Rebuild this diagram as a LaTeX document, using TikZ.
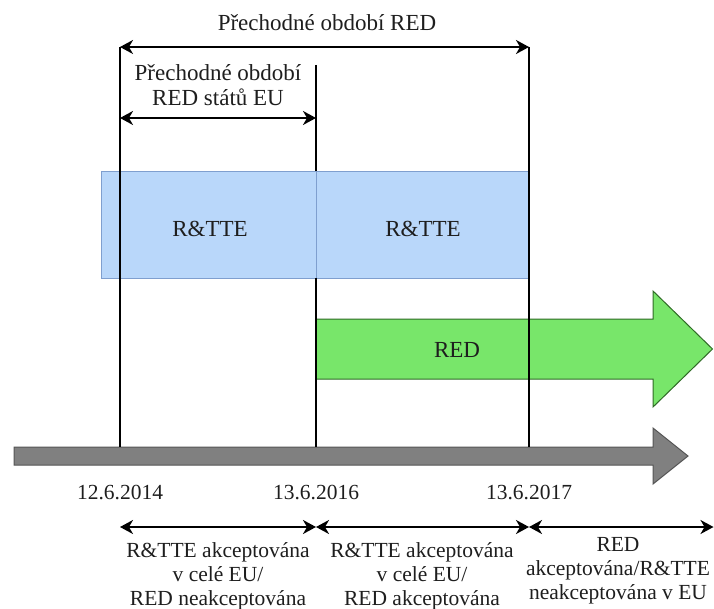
\documentclass[tikz,border=0pt]{standalone}
\usepackage{fontspec}
\setmainfont{Liberation Serif}[Ligatures=TeX]
\usetikzlibrary{arrows.meta}

\definecolor{bandfill}{HTML}{B9D7FA}
\definecolor{banddraw}{HTML}{7F9FCF}
\definecolor{redfill}{HTML}{78E66A}
\definecolor{reddraw}{HTML}{2F6B26}
\definecolor{axisfill}{HTML}{808080}
\definecolor{axisdraw}{HTML}{555555}
\definecolor{ink}{HTML}{1E1E1E}

\tikzset{
  lbl/.style={font=\rmfamily\fontsize{21.5}{24}\selectfont, text=ink, align=center, inner sep=0pt},
  biglbl/.style={lbl, font=\rmfamily\fontsize{23}{25}\selectfont},
  tipend/.tip={Stealth[length=13pt,width=14pt,inset=4pt]},
  span/.style={line width=1.7pt, tipend-tipend},
  tick/.style={line width=1.1pt, draw=black},
  band/.style={fill=bandfill, draw=banddraw, line width=0.9pt},
}

\begin{document}
\begin{tikzpicture}[x=1pt, y=-1pt]
  \useasboundingbox (0,0) rectangle (714,609);

  % milestone positions
  \coordinate (a0) at (120,47);
  \coordinate (b0) at (316,65);
  \coordinate (c0) at (529,47);
  \coordinate (a1) at (120,447);
  \coordinate (b1) at (316,447);
  \coordinate (c1) at (529,447);
  \coordinate (bt) at (316,171);
  \coordinate (bb) at (316,278);

  % R&TTE band
  \path[band] (101,171) rectangle (316,278);
  \path[band] (316,171) rectangle (529,278);
  \node[biglbl] (rtte1) at (210,229) {R\&TTE};
  \node[biglbl] (rtte2) at (423,229) {R\&TTE};

  % RED arrow
  \path[fill=redfill, draw=reddraw, line width=1pt, line join=miter]
    (316,319) -- (653,319) -- (653,291) -- (712.5,349) -- (653,407) -- (653,379) -- (316,379) -- cycle;
  \node[biglbl] (red) at (457,350) {RED};

  % time axis
  \path[fill=axisfill, draw=axisdraw, line width=1pt, line join=miter]
    (14,447) -- (653,447) -- (653,428) -- (688,456) -- (653,484) -- (653,465) -- (14,465) -- cycle;

  % milestone lines
  \draw[tick] (a0) -- (a1);
  \draw[tick] (c0) -- (c1);
  \draw[tick] (b0) -- (bt);
  \draw[tick] (bb) -- (b1);

  % transition periods
  \coordinate (pa) at (120,47);
  \coordinate (pc) at (529,47);
  \draw[span] (pa) -- (pc);
  \node[biglbl] (pred) at (327,23) {Přechodné období RED};

  \coordinate (qa) at (120,118);
  \coordinate (qb) at (316,118);
  \draw[span] (qa) -- (qb);
  \node[biglbl] (peu) at (218,85) {Přechodné období\\RED států EU};

  % dates
  \node[lbl] (d1) at (120,493) {12.6.2014};
  \node[lbl] (d2) at (316,493) {13.6.2016};
  \node[lbl] (d3) at (529,493) {13.6.2017};

  % phases
  \coordinate (s1) at (120,527);
  \coordinate (s2) at (316,527);
  \coordinate (s3) at (529,527);
  \coordinate (s4) at (713.5,527);
  \draw[span] (s1) -- (s2);
  \draw[span] (s2) -- (s3);
  \draw[span] (s3) -- (s4);

  \node[lbl] (ph1) at (218,576) {R\&TTE akceptována\\v celé EU/\\RED neakceptována};
  \node[lbl] (ph2) at (422,576) {R\&TTE akceptována\\v celé EU/\\RED akceptována};
  \node[lbl] (ph3) at (618,571) {RED\\akceptována/R\&TTE\\neakceptována v EU};
\end{tikzpicture}
\end{document}
